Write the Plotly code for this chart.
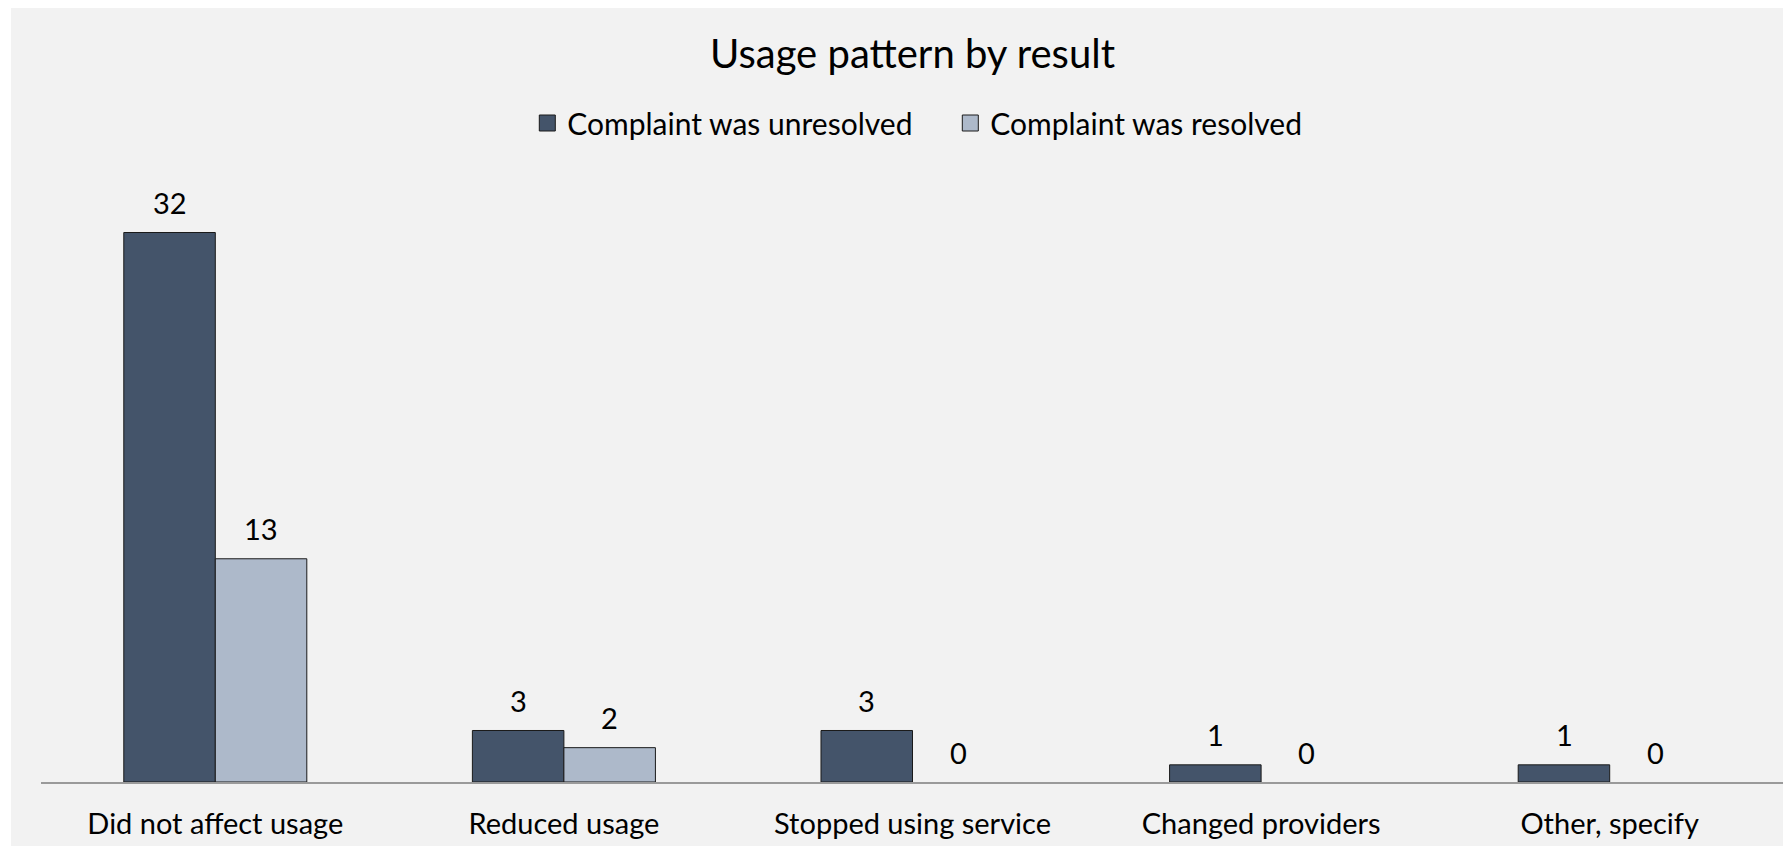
import plotly.graph_objects as go

# Daten aus dem Diagramm
kategorien = [
    "Did not affect usage",
    "Reduced usage",
    "Stopped using service",
    "Changed providers",
    "Other, specify",
]
ungeloest = [32, 3, 3, 1, 1]
geloest = [13, 2, 0, 0, 0]

serien = [
    ("Complaint was unresolved", ungeloest, "#44546A"),
    ("Complaint was resolved", geloest, "#ADB9CA"),
]

schrift = "Lato, Open Sans, sans-serif"
randfarbe = "#1a1a1a"

fig = go.Figure()
for name, werte, farbe in serien:
    fig.add_trace(
        go.Bar(
            x=kategorien,
            y=werte,
            name=name,
            marker_color=farbe,
            marker_line_color=randfarbe,
            # Null-Balken ohne Umriss, sonst sieht man einen Strich
            marker_line_width=[1 if w else 0 for w in werte],
            showlegend=False,
        )
    )
    # Legendeneintrag mit größerem Quadrat
    fig.add_trace(
        go.Scatter(
            x=[kategorien[0]],
            y=[None],
            mode="markers",
            name=name,
            marker=dict(
                symbol="square",
                size=18,
                color=farbe,
                line=dict(color=randfarbe, width=1),
            ),
        )
    )

# Datenbeschriftungen über den Balken
versatz = [-45.7, 45.7]
for (name, werte, farbe), dx in zip(serien, versatz):
    for kat, w in zip(kategorien, werte):
        fig.add_annotation(
            x=kat,
            y=w,
            text=str(w),
            showarrow=False,
            xshift=dx,
            yshift=30,
            yanchor="middle",
            font=dict(size=29, color="#000000", family=schrift),
        )

# grauer Diagrammhintergrund mit weißem Rand
fig.add_shape(
    type="rect",
    xref="paper",
    yref="paper",
    x0=-0.0172,
    x1=1.01,
    y0=-0.1065,
    y1=1.30,
    fillcolor="#F2F2F2",
    line_width=0,
    layer="below",
)

fig.update_layout(
    width=1783,
    height=846,
    margin=dict(l=33, r=7, t=173, b=72),
    paper_bgcolor="#FFFFFF",
    plot_bgcolor="rgba(0,0,0,0)",
    barmode="group",
    bargap=0.475,
    bargroupgap=0,
    title=dict(
        text="Usage pattern by result",
        xref="paper",
        x=0.5,
        xanchor="center",
        y=1 - 46 / 846,
        yanchor="middle",
        font=dict(size=40, color="#000000", family=schrift),
    ),
    legend=dict(
        orientation="h",
        x=0.279,
        xanchor="left",
        y=1.0965,
        yanchor="middle",
        font=dict(size=30, color="#000000", family=schrift),
        bgcolor="rgba(0,0,0,0)",
        itemsizing="trace",
        itemwidth=30,
        entrywidth=378,
        entrywidthmode="pixels",
    ),
    font=dict(family=schrift, color="#000000"),
)

fig.update_xaxes(
    showline=True,
    linecolor="#9A9A9A",
    linewidth=1.5,
    ticks="",
    showgrid=False,
    tickfont=dict(size=29, color="#000000", family=schrift),
    ticklabelstandoff=15,
    range=[-0.5, 4.5],
)
fig.update_yaxes(
    visible=False,
    range=[0, 35],
    showgrid=False,
    zeroline=False,
)

fig.write_html("out.html")
